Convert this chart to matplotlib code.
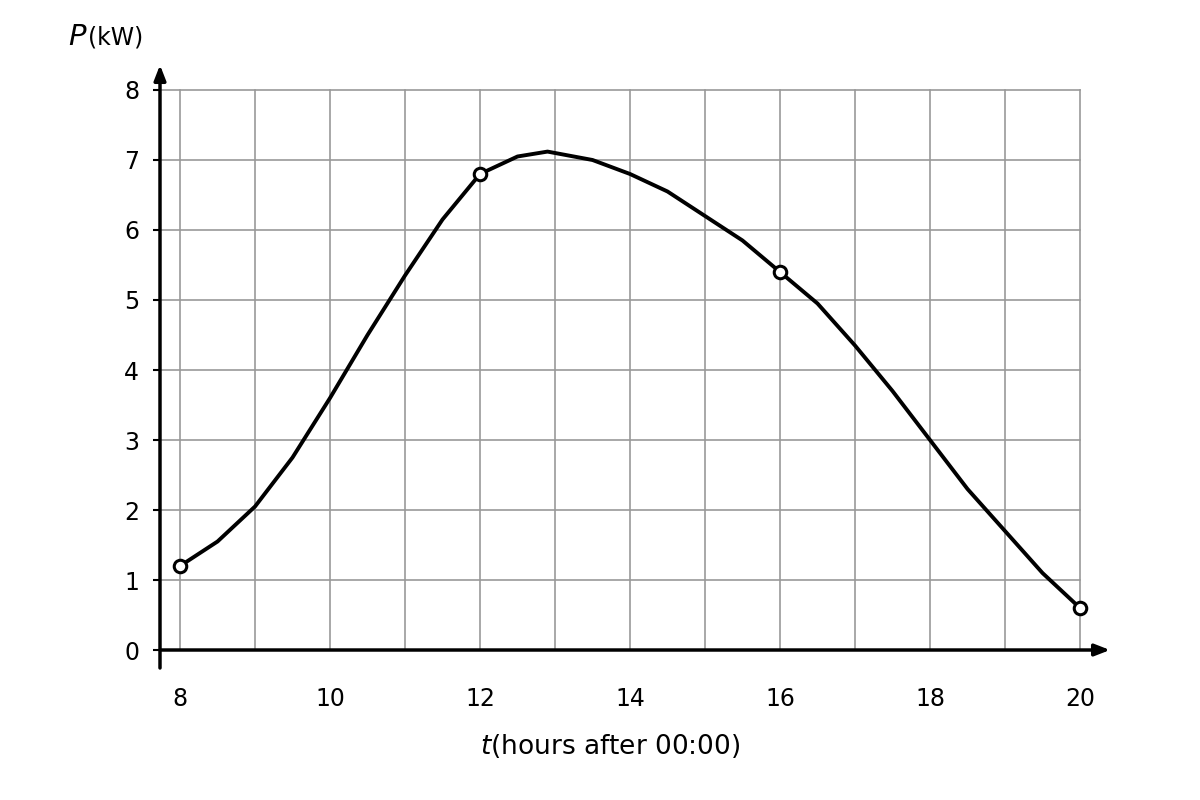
import matplotlib
matplotlib.use("Agg")
import matplotlib.pyplot as plt

t = [8, 8.5, 9, 9.5, 10, 10.5, 11, 11.5, 12, 12.5, 12.9, 13.5, 14, 14.5, 15, 15.5, 16, 16.5, 17, 17.5, 18, 18.5, 19, 19.5, 20]
p = [1.2, 1.55, 2.05, 2.75, 3.6, 4.5, 5.35, 6.15, 6.8, 7.05, 7.12, 7.0, 6.8, 6.55, 6.2, 5.85, 5.4, 4.95, 4.35, 3.7, 3.0, 2.3, 1.7, 1.1, 0.6]
mark_t = [8, 12, 16, 20]
mark_p = [1.2, 6.8, 5.4, 0.6]
xticks = [8, 10, 12, 14, 16, 18, 20]
yticks = [0, 1, 2, 3, 4, 5, 6, 7, 8]

fig = plt.figure(figsize=(12, 8), dpi=100)
ax = fig.add_axes([160/1200, 132/800, 950/1200, 603/800])
ax.set_xlim(7.733, 20.4)
ax.set_ylim(-0.257, 8.357)
for s in ax.spines.values():
    s.set_visible(False)
for x in range(8, 21):
    ax.plot([x, x], [0, 8], color="#999999", lw=1.2, zorder=1)
for y in range(1, 9):
    ax.plot([7.733, 20], [y, y], color="#999999", lw=1.2, zorder=1)
ax.annotate("", xy=(20.4, 0), xytext=(7.733, 0),
            arrowprops=dict(arrowstyle="-|>,head_length=0.9,head_width=0.35", color="black", lw=2.5, shrinkA=0, shrinkB=0))
ax.annotate("", xy=(7.733, 8.357), xytext=(7.733, -0.257),
            arrowprops=dict(arrowstyle="-|>,head_length=0.9,head_width=0.35", color="black", lw=2.5, shrinkA=0, shrinkB=0))
ax.plot(t, p, color="black", lw=2.8, zorder=3)
ax.plot(mark_t, mark_p, "o", ms=9, mfc="white", mec="black", mew=2.2, zorder=4)
ax.set_xticks(xticks)
ax.set_yticks(yticks)
ax.tick_params(axis="both", labelsize=17, length=5, width=1.5, direction="out")
ax.tick_params(axis="x", length=0, pad=14)
ax.tick_params(axis="y", pad=10)
fig.text(0.5, 0.055, "", ha="center")
fig.text(480/1200, 40/800, "$\\it{t}$(hours after 00:00)", fontsize=19, ha="left", va="bottom")
fig.text(68/1200, 763/800, "$\\it{P}$", fontsize=21, ha="left", va="center")
fig.text(88/1200, 763/800, "(kW)", fontsize=17, ha="left", va="center")
fig.savefig("out.png", dpi=100)
